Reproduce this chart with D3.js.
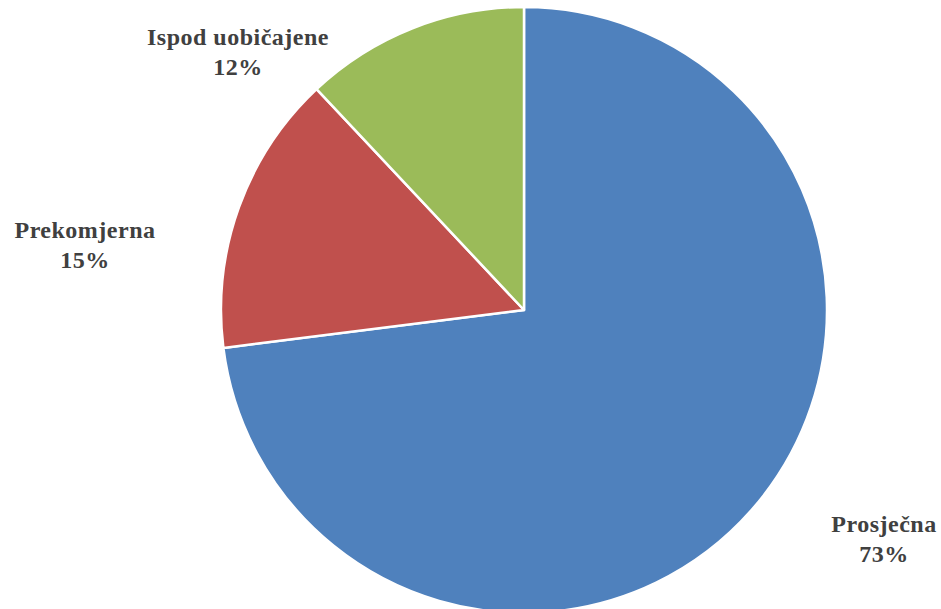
<!DOCTYPE html>
<html>
<head>
<meta charset="utf-8">
<script src="https://cdn.jsdelivr.net/npm/d3@7/dist/d3.min.js"></script>
<style>
  html, body { margin: 0; padding: 0; background: #ffffff; }
  svg { display: block; }
</style>
</head>
<body>
<svg id="chart" width="941" height="609"></svg>
<script>
// Share of respondents by category, clockwise from 12 o'clock
const categories = ["Prosječna", "Prekomjerna", "Ispod uobičajene"];
const values = [73, 15, 12];
const colors = ["#4F81BD", "#C0504D", "#9BBB59"];
// Label anchor points (centre x, first-line baseline)
const labelX = [884, 85, 238];
const labelY = [532, 238, 45];

const svg = d3.select("#chart");
const cx = 524, cy = 310, r = 303;

const pie = d3.pie().sort(null).value(d => d.value);
const arc = d3.arc().innerRadius(0).outerRadius(r);

const data = categories.map((c, i) => ({ name: c, value: values[i], color: colors[i], lx: labelX[i], ly: labelY[i] }));
const arcs = pie(data);

const g = svg.append("g").attr("transform", `translate(${cx},${cy})`);
g.selectAll("path")
  .data(arcs)
  .join("path")
  .attr("d", arc)
  .attr("fill", d => d.data.color)
  .attr("stroke", "#ffffff")
  .attr("stroke-width", 2.5)
  .attr("stroke-linejoin", "round");

const total = d3.sum(values);
const labels = svg.append("g").attr("text-anchor", "middle");

function styleLabel(sel) {
  sel.style("font-family", '"Liberation Serif", "Times New Roman", serif')
     .style("font-weight", "bold")
     .style("font-size", "24px")
     .style("letter-spacing", "0.5px")
     .style("fill", "#404040");
}

labels.selectAll("text.name")
  .data(data)
  .join("text")
  .attr("class", "name")
  .attr("x", d => d.lx)
  .attr("y", d => d.ly)
  .call(styleLabel)
  .text(d => d.name);

labels.selectAll("text.pct")
  .data(data)
  .join("text")
  .attr("class", "pct")
  .attr("x", d => d.lx)
  .attr("y", d => d.ly + 30)
  .call(styleLabel)
  .text(d => Math.round(d.value / total * 100) + "%");
</script>
</body>
</html>
